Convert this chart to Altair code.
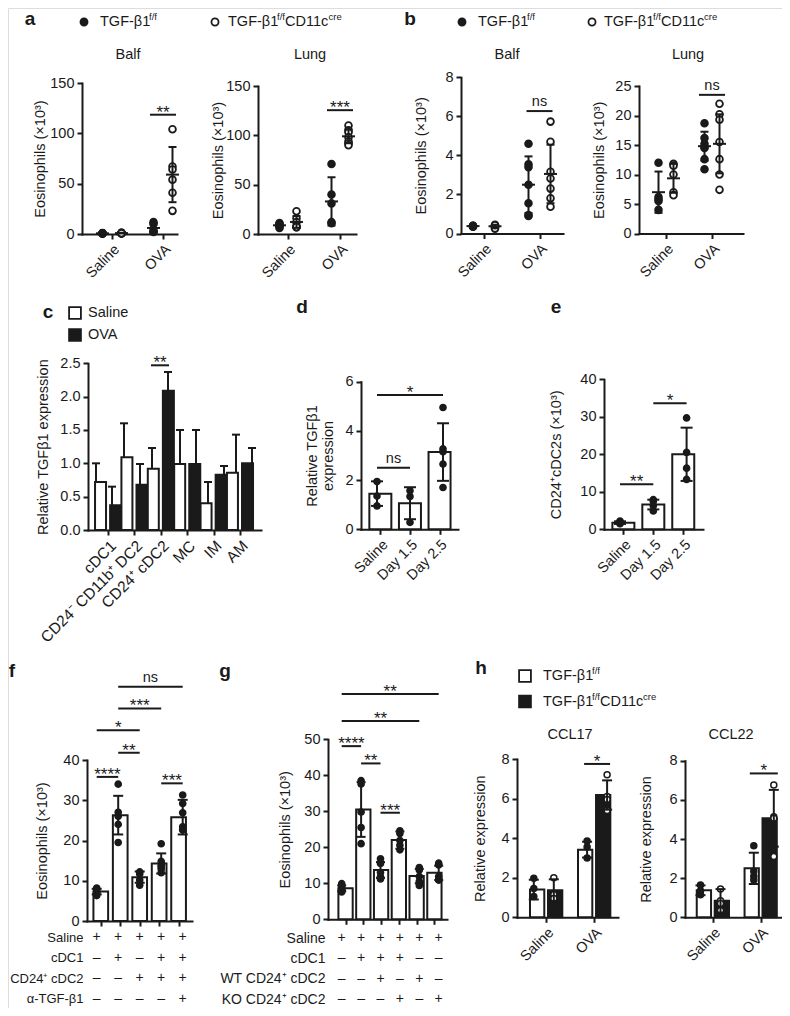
import altair as alt
import pandas as pd

W, H = 774, 1000
OX, OY = 8, 8
FONT = "Liberation Sans"
INK = "#1a1a1a"

# ---------------- data ----------------
AB_GROUPS = ["Saline", "OVA"]

# panel a  (filled = TGF-b1 f/f, open = TGF-b1 f/f CD11c cre)
a_balf_wt_pts = [[0.4, 0.6, 0.8, 1.0, 0.7], [12, 10, 3, 2, 3]]
a_balf_ko_pts = [[0.5, 0.7, 0.9, 1.1, 1.3, 0.8], [104, 67, 64, 54, 41, 23]]
a_balf_wt_mean, a_balf_wt_sd = [0.7, 6.0], [0.2, 4.6]
a_balf_ko_mean, a_balf_ko_sd = [0.9, 59.0], [0.3, 27.4]
a_balf_sig = (118.5, "**")

a_lung_wt_pts = [[11, 10, 9, 6, 8], [71, 40, 31, 12, 11]]
a_lung_ko_pts = [[23, 16, 12, 8, 7, 7], [110, 105, 103, 98, 94, 92, 90]]
a_lung_wt_mean, a_lung_wt_sd = [8.8, 33.0], [2.0, 24.5]
a_lung_ko_mean, a_lung_ko_sd = [12.2, 99.0], [6.0, 7.0]
a_lung_sig = (125.5, "***")

# panel b
b_balf_wt_pts = [[0.35, 0.38, 0.40, 0.36, 0.39], [4.6, 3.55, 3.4, 2.5, 1.55, 0.9, 0.95]]
b_balf_ko_pts = [[0.30, 0.40, 0.45, 0.35, 0.25, 0.42], [5.73, 4.7, 3.16, 2.82, 2.3, 1.8, 1.37]]
b_balf_wt_mean, b_balf_wt_sd = [0.38, 2.5], [0.02, 1.45]
b_balf_ko_mean, b_balf_ko_sd = [0.37, 3.05], [0.08, 1.5]
b_balf_sig = (6.27, "ns")

b_lung_wt_pts = [[12.0, 6.2, 5.8, 5.5, 4.0], [18.7, 16.2, 15.2, 14.7, 14.5, 12.6, 10.9]]
b_lung_ko_pts = [[11.8, 11.5, 10.0, 7.0, 6.5], [22.0, 20.2, 19.3, 15.5, 12.6, 10.0, 7.4]]
b_lung_wt_mean, b_lung_wt_sd = [7.0, 14.8], [3.5, 2.45]
b_lung_ko_mean, b_lung_ko_sd = [9.35, 15.2], [2.45, 5.0]
b_lung_sig = (23.5, "ns")

# panel c
C_CELLS = ["cDC1", "CD24⁻ CD11b⁺ DC2", "CD24⁺ cDC2", "MC", "IM", "AM"]
c_saline_mean = [0.72, 1.09, 0.92, 0.99, 0.40, 0.86]
c_saline_sd = [0.28, 0.51, 0.31, 0.51, 0.32, 0.57]
c_ova_mean = [0.37, 0.68, 2.09, 0.99, 0.83, 1.00]
c_ova_sd = [0.28, 0.31, 0.28, 0.51, 0.13, 0.23]
c_sig = [(2, 2.47, "**")]

# panels d, e
DE_GROUPS = ["Saline", "Day 1.5", "Day 2.5"]
d_mean, d_sd = [1.45, 1.06, 3.14], [0.5, 0.65, 1.17]
d_pts = [[1.94, 1.35, 0.95], [1.57, 1.33, 0.28], [4.95, 3.27, 3.15, 2.65, 1.70]]
d_sig = [(0, 1, 2.5, "ns"), (0, 2, 5.46, "*")]

e_mean, e_sd = [1.78, 6.6, 20.0], [0.35, 1.3, 7.1]
e_pts = [[2.2, 1.9, 1.8, 1.6, 1.5, 1.7], [7.9, 7.5, 6.3, 4.9], [29.7, 20.5, 16.3, 13.3]]
e_sig = [(0, 1, 12.0, "**"), (1, 2, 33.6, "*")]

# panel f
F_ROWS = ["Saline", "cDC1", "CD24⁺ cDC2", "α-TGF-β1"]
f_table = [["+", "+", "+", "+", "+"],
           ["–", "+", "–", "+", "+"],
           ["–", "–", "+", "+", "+"],
           ["–", "–", "–", "–", "+"]]
f_mean = [7.3, 26.3, 10.9, 14.3, 25.8]
f_sd = [0.7, 4.8, 1.4, 2.5, 4.3]
f_pts = [[8.2, 7.8, 7.4, 6.9, 6.3, 7.0], [34.0, 27.0, 26.0, 24.0, 19.5],
         [12.2, 11.7, 10.2, 8.9], [19.2, 14.8, 13.9, 13.5, 12.9, 12.0],
         [31.3, 29.2, 26.9, 23.4, 22.8, 22.6]]
f_sig = [(0, 1, 35.8, "****"), (1, 2, 41.8, "**"), (0, 2, 47.4, "*"),
         (1, 3, 52.8, "***"), (1, 4, 58.2, "ns"), (3, 4, 34.2, "***")]

# panel g
G_ROWS = ["Saline", "cDC1", "WT CD24⁺ cDC2", "KO CD24⁺ cDC2"]
g_table = [["+", "+", "+", "+", "+", "+"],
           ["–", "+", "+", "+", "–", "–"],
           ["–", "–", "+", "–", "+", "–"],
           ["–", "–", "–", "+", "–", "+"]]
g_mean = [8.6, 30.5, 13.7, 22.0, 12.0, 12.9]
g_sd = [0.8, 7.6, 2.2, 2.4, 2.0, 2.0]
g_pts = [[9.9, 9.3, 8.6, 8.0, 7.6, 7.9, 8.4], [38.5, 37.6, 29.8, 25.5, 21.0],
         [16.8, 15.5, 13.0, 11.8, 11.2], [24.6, 23.8, 21.9, 20.6, 19.3],
         [14.4, 13.7, 11.9, 10.5, 9.4], [15.6, 15.1, 11.9, 10.9, 11.0]]
g_sig = [(0, 5, 62.6, "**"), (0, 4, 55.1, "**"), (0, 1, 48.1, "****"),
         (1, 2, 43.3, "**"), (2, 3, 29.6, "***")]

# panel h (white bars = TGF-b1 f/f, black bars = TGF-b1 f/f CD11c cre)
h17_wt_mean, h17_wt_sd = [1.4, 3.42], [0.5, 0.4]
h17_ko_mean, h17_ko_sd = [1.37, 6.18], [0.55, 0.74]
h17_wt_pts = [[1.97, 1.45, 1.05], [3.85, 3.55, 3.0]]
h17_ko_pts = [[2.0, 1.15, 0.95], [7.2, 6.1, 5.95, 5.4]]
h17_sig = (7.75, "*")

h22_wt_mean, h22_wt_sd = [1.38, 2.5], [0.25, 0.8]
h22_ko_mean, h22_ko_sd = [0.84, 5.06], [0.6, 1.45]
h22_wt_pts = [[1.65, 1.35, 1.15], [3.65, 2.35, 2.1, 1.9]]
h22_ko_pts = [[1.45, 0.85, 0.7, 0.35], [6.76, 5.14, 5.06, 3.1]]
h22_sig = (7.35, "*")


# ---------------- helpers ----------------
def X(v):
    return v - OX


def Y(v):
    return v - OY


def js_arr(labels):
    return "[" + ",".join("'" + s + "'" for s in labels) + "]"


LBL = 14.5
AXS = dict(domainColor=INK, domainWidth=2, domainCap="square", tickColor=INK, tickWidth=2,
           tickSize=5, labelFont=FONT, labelColor=INK, titleFont=FONT,
           titleFontSize=14.5, titleFontWeight="normal", titleColor=INK, grid=False,
           labelFlush=False, labelOverlap=False)


class Frame:
    def __init__(s, ax0, ax1, c0, step, ybot, ytop, vmax):
        s.ax0, s.ax1, s.c0, s.step = ax0, ax1, c0, step
        s.ybot, s.ytop, s.vmax = ybot, ytop, vmax

    def xs(s):
        lo = -(s.c0 - s.ax0) / s.step
        hi = lo + (s.ax1 - s.ax0) / s.step
        return alt.Scale(domain=[lo, hi], range=[X(s.ax0), X(s.ax1)], nice=False, zero=False)

    def ys(s):
        return alt.Scale(domain=[0, s.vmax], range=[Y(s.ybot), Y(s.ytop)], nice=False, zero=False)

    def xaxis(s, labels, show=True, size=LBL):
        d = dict(orient="bottom", offset=Y(s.ybot) - H, values=list(range(len(labels))),
                 title=None, labelPadding=3, labelFontSize=size, **AXS)
        if show:
            d.update(labelExpr=js_arr(labels) + "[datum.value]", labelAngle=315)
        else:
            d.update(labels=False)
        return alt.Axis(**d)

    def yaxis(s, values, title, D, fmt=None):
        d = dict(orient="left", offset=-X(s.ax0), values=values, title=title, titleX=-D,
                 titleY=(Y(s.ybot) + Y(s.ytop)) / 2, titleAngle=270, titleAlign="center",
                 titleBaseline="bottom", labelPadding=3, labelFontSize=LBL, **AXS)
        if fmt:
            d["format"] = fmt
        return alt.Axis(**d)

    def x(s, field="x", axis=None):
        return alt.X(f"{field}:Q", scale=s.xs(), axis=axis)

    def y(s, field="y", axis=None):
        return alt.Y(f"{field}:Q", scale=s.ys(), axis=axis)


def points(fr, df, size, xaxis=None, yaxis=None, sw=1.5):
    return alt.Chart(df).mark_point(shape="circle", size=size, stroke=INK, strokeWidth=sw,
                                    opacity=1, fillOpacity=1).encode(
        x=fr.x(axis=xaxis), y=fr.y(axis=yaxis), fill=alt.Fill("f:N", scale=None))


def errbars(fr, S, cap, both=True):
    S = S.copy()
    S["lo"] = S["m"] - S["sd"] if both else S["m"]
    S["hi"] = S["m"] + S["sd"]
    caps = [S[["x", "hi"]].rename(columns={"hi": "y"})]
    if both:
        caps.append(S[["x", "lo"]].rename(columns={"lo": "y"}))
    C = pd.concat(caps, ignore_index=True)
    return [
        alt.Chart(S).mark_rule(color=INK, strokeWidth=2, opacity=1).encode(
            x=fr.x(), y=fr.y("lo"), y2=alt.Y2("hi:Q")),
        alt.Chart(C).mark_tick(orient="horizontal", size=cap, thickness=2, color=INK,
                               opacity=1).encode(x=fr.x(), y=fr.y()),
    ]


def sig_text(fr, df, xfield):
    out = []
    stars = df[df["t"] != "ns"]
    ns = df[df["t"] == "ns"]
    if len(stars):
        out.append(alt.Chart(stars).mark_text(font=FONT, fontSize=17, color=INK,
                                              baseline="alphabetic", dy=3).encode(
            x=fr.x(xfield), y=fr.y("y"), text="t:N"))
    if len(ns):
        out.append(alt.Chart(ns).mark_text(font=FONT, fontSize=14.5, color=INK,
                                           baseline="alphabetic", dy=-5).encode(
            x=fr.x(xfield), y=fr.y("y"), text="t:N"))
    return out


def sig_ticks(fr, sigs, width):
    df = pd.DataFrame([dict(x=xx, y=v, t=t) for xx, v, t in sigs])
    return [alt.Chart(df).mark_tick(orient="horizontal", size=width, thickness=2, color=INK,
                                    opacity=1).encode(x=fr.x(), y=fr.y())] + sig_text(fr, df, "x")


def sig_spans(fr, sigs):
    df = pd.DataFrame([dict(a=i, b=j, y=v, mid=(i + j) / 2, t=t) for i, j, v, t in sigs])
    return [alt.Chart(df).mark_rule(color=INK, strokeWidth=2, opacity=1).encode(
        x=fr.x("a"), x2=alt.X2("b:Q"), y=fr.y("y"))] + sig_text(fr, df, "mid")


def scatter_panel(fr, wt_pts, ko_pts, wt_m, wt_s, ko_m, ko_s, sig, yvals, ytitle, D, dodge):
    dd = dodge / fr.step
    prow, srow = [], []
    for gi in range(len(AB_GROUPS)):
        for v in wt_pts[gi]:
            prow.append(dict(x=gi - dd, y=v, f=INK))
        for v in ko_pts[gi]:
            prow.append(dict(x=gi + dd, y=v, f="white"))
        srow.append(dict(x=gi - dd, m=wt_m[gi], sd=wt_s[gi]))
        srow.append(dict(x=gi + dd, m=ko_m[gi], sd=ko_s[gi]))
    P, S = pd.DataFrame(prow), pd.DataFrame(srow)
    out = [points(fr, P, 46, fr.xaxis(AB_GROUPS), fr.yaxis(yvals, ytitle, D), sw=1.8)]
    out += errbars(fr, S, 8, True)
    out.append(alt.Chart(S).mark_tick(orient="horizontal", size=13, thickness=2, color=INK,
                                      opacity=1).encode(x=fr.x(), y=fr.y("m")))
    out += sig_ticks(fr, [(1, sig[0], sig[1])], 26)
    return out


def grouped_bar_panel(fr, groups, m1, s1, m2, s2, dodge, bw, cap, both, yvals, ytitle, D,
                      pts1=None, pts2=None, fmt=None, xsize=LBL):
    dd = dodge / fr.step
    brow, srow, prow = [], [], []
    for gi in range(len(groups)):
        brow.append(dict(x=gi - dd, m=m1[gi], f="white"))
        brow.append(dict(x=gi + dd, m=m2[gi], f=INK))
        srow.append(dict(x=gi - dd, m=m1[gi], sd=s1[gi]))
        srow.append(dict(x=gi + dd, m=m2[gi], sd=s2[gi]))
        if pts1 is not None:
            for v in pts1[gi]:
                prow.append(dict(x=gi - dd, y=v, f=INK))
            for v in pts2[gi]:
                prow.append(dict(x=gi + dd, y=v, f="white"))
    B, S = pd.DataFrame(brow), pd.DataFrame(srow)
    out = [alt.Chart(B).mark_bar(width=bw, stroke=INK, strokeWidth=2, opacity=1).encode(
        x=fr.x(axis=fr.xaxis(groups, True, xsize)),
        y=fr.y("m", axis=fr.yaxis(yvals, ytitle, D, fmt)),
        fill=alt.Fill("f:N", scale=None))]
    if prow:
        out.append(points(fr, pd.DataFrame(prow), 36))
    out += errbars(fr, S, cap, both)
    return out


def bar_panel(fr, groups, means, sds, pts, bw, cap, sigs, yvals, ytitle, D, show_labels=True):
    B = pd.DataFrame([dict(x=i, m=means[i], f="white") for i in range(len(groups))])
    S = pd.DataFrame([dict(x=i, m=means[i], sd=sds[i]) for i in range(len(groups))])
    P = pd.DataFrame([dict(x=i, y=v, f=INK) for i in range(len(groups)) for v in pts[i]])
    out = [alt.Chart(B).mark_bar(width=bw, stroke=INK, strokeWidth=2, opacity=1).encode(
        x=fr.x(axis=fr.xaxis(groups, show_labels)),
        y=fr.y("m", axis=fr.yaxis(yvals, ytitle, D)),
        fill=alt.Fill("f:N", scale=None))]
    out.append(points(fr, P, 38))
    out += errbars(fr, S, cap, True)
    out += sig_spans(fr, sigs)
    return out


def table_layer(fr, rows, table, ytop, ybot, label_right, size):
    df = pd.DataFrame([dict(x=c, r=r, t=table[r][c]) for r in range(len(rows))
                       for c in range(len(table[r]))])
    ysc = alt.Scale(domain=[0, len(rows) - 1], range=[Y(ytop), Y(ybot)], nice=False, zero=False)
    yax = alt.Axis(orient="left", offset=-X(label_right), values=list(range(len(rows))),
                   labelExpr=js_arr(rows) + "[datum.value]", domain=False, ticks=False,
                   tickSize=0, labelPadding=0, title=None, labelFont=FONT, labelFontSize=size,
                   labelColor=INK, grid=False, labelFlush=False, labelOverlap=False,
                   labelBaseline="middle")
    return alt.Chart(df).mark_text(font=FONT, fontSize=14, color=INK, baseline="middle").encode(
        x=fr.x(), y=alt.Y("r:Q", scale=ysc, axis=yax), text="t:N")


# ---------------- frames (axis extents in page pixels) ----------------
fr_a1 = Frame(82, 177, 112, 51, 234, 83, 150)
fr_a2 = Frame(258, 356, 288, 52, 234, 86, 150)
fr_b1 = Frame(461, 563, 484, 55.5, 233.5, 77.3, 8)
fr_b2 = Frame(639, 743, 666, 46, 233.5, 86, 25)
fr_c = Frame(88, 261, 104, 28, 530, 363.3, 2.5)
fr_d = Frame(361, 458, 377, 33, 529.3, 381.7, 6)
fr_e = Frame(604, 703, 620, 33.3, 529.3, 379.3, 40)
fr_f = Frame(87, 192, 96.7, 21.5, 921, 760, 40)
fr_g = Frame(328, 447, 341.7, 19.4, 919.3, 739.3, 50)
fr_h1 = Frame(517, 618, 543.8, 53.3, 917.3, 759, 8)
fr_h2 = Frame(685, 782, 710.5, 53.3, 917.3, 760.7, 8)

EOS = "Eosinophils (×10³)"
layers = []
layers += scatter_panel(fr_a1, a_balf_wt_pts, a_balf_ko_pts, a_balf_wt_mean, a_balf_wt_sd,
                        a_balf_ko_mean, a_balf_ko_sd, a_balf_sig, [0, 50, 100, 150], EOS, 35, 9.5)
layers += scatter_panel(fr_a2, a_lung_wt_pts, a_lung_ko_pts, a_lung_wt_mean, a_lung_wt_sd,
                        a_lung_ko_mean, a_lung_ko_sd, a_lung_sig, [0, 50, 100, 150], EOS, 33, 8.5)
layers += scatter_panel(fr_b1, b_balf_wt_pts, b_balf_ko_pts, b_balf_wt_mean, b_balf_wt_sd,
                        b_balf_ko_mean, b_balf_ko_sd, b_balf_sig, [0, 2, 4, 6, 8], EOS, 33, 11)
layers += scatter_panel(fr_b2, b_lung_wt_pts, b_lung_ko_pts, b_lung_wt_mean, b_lung_wt_sd,
                        b_lung_ko_mean, b_lung_ko_sd, b_lung_sig, [0, 5, 10, 15, 20, 25], EOS, 33, 7.5)

layers += grouped_bar_panel(fr_c, C_CELLS, c_saline_mean, c_saline_sd, c_ova_mean, c_ova_sd,
                            8, 11, 8, False, [0, 0.5, 1.0, 1.5, 2.0, 2.5],
                            "Relative TGFβ1 expression", 38, fmt=".1f", xsize=15.5)
layers += sig_ticks(fr_c, c_sig, 18)

layers += bar_panel(fr_d, DE_GROUPS, d_mean, d_sd, d_pts, 22, 12, d_sig, [0, 2, 4, 6],
                    ["Relative TGFβ1", "expression"], 42)
layers += bar_panel(fr_e, DE_GROUPS, e_mean, e_sd, e_pts, 22, 12, e_sig, [0, 10, 20, 30, 40],
                    "CD24⁺cDC2s (×10³)", 41)

layers += bar_panel(fr_f, F_ROWS[:1] * 5, f_mean, f_sd, f_pts, 14.7, 10, f_sig,
                    [0, 10, 20, 30, 40], EOS, 38, show_labels=False)
layers.append(table_layer(fr_f, F_ROWS, f_table, 937, 998.5, 83, 13))
layers += bar_panel(fr_g, G_ROWS[:1] * 6, g_mean, g_sd, g_pts, 14.3, 9, g_sig,
                    [0, 10, 20, 30, 40, 50], EOS, 36, show_labels=False)
layers.append(table_layer(fr_g, G_ROWS, g_table, 938, 999, 325, 14))

layers += grouped_bar_panel(fr_h1, AB_GROUPS, h17_wt_mean, h17_wt_sd, h17_ko_mean, h17_ko_sd,
                            10, 14.3, 10, True, [0, 2, 4, 6, 8], "Relative expression", 30,
                            h17_wt_pts, h17_ko_pts)
layers += sig_ticks(fr_h1, [(1, h17_sig[0], h17_sig[1])], 26)
layers += grouped_bar_panel(fr_h2, AB_GROUPS, h22_wt_mean, h22_wt_sd, h22_ko_mean, h22_ko_sd,
                            10, 14.3, 10, True, [0, 2, 4, 6, 8], "Relative expression", 32,
                            h22_wt_pts, h22_ko_pts)
layers += sig_ticks(fr_h2, [(1, h22_sig[0], h22_sig[1])], 28)

# ---------------- annotations (letters, legends, panel titles) ----------------
AXA = alt.Scale(domain=[0, W], range=[0, W], nice=False, zero=False)
AYA = alt.Scale(domain=[0, H], range=[0, H], nice=False, zero=False)


def ann_text(rows, size, weight="normal", align="left"):
    df = pd.DataFrame([dict(t=t, x=X(x), y=Y(y)) for t, x, y in rows])
    return alt.Chart(df).mark_text(font=FONT, fontSize=size, fontWeight=weight, align=align,
                                   baseline="middle", color=INK).encode(
        x=alt.X("x:Q", scale=AXA, axis=None), y=alt.Y("y:Q", scale=AYA, axis=None), text="t:N")


def ann_symbols(rows, shape, size):
    df = pd.DataFrame([dict(x=X(x), y=Y(y), f=f) for x, y, f in rows])
    return alt.Chart(df).mark_point(shape=shape, size=size, stroke=INK, strokeWidth=1.8,
                                    opacity=1, fillOpacity=1).encode(
        x=alt.X("x:Q", scale=AXA, axis=None), y=alt.Y("y:Q", scale=AYA, axis=None),
        fill=alt.Fill("f:N", scale=None))


letters = [("a", 30, 19), ("b", 410, 19), ("c", 48, 312), ("d", 302, 307), ("e", 556, 307),
           ("f", 12, 671), ("g", 225, 671), ("h", 481, 668)]
legend_txt = [("TGF-β1", 100, 22), ("TGF-β1", 228, 22), ("CD11c", 285, 22),
              ("TGF-β1", 478, 22), ("TGF-β1", 604, 22), ("CD11c", 661, 22),
              ("Saline", 88, 313), ("OVA", 88, 335),
              ("TGF-β1", 543, 676), ("TGF-β1", 543, 701.5), ("CD11c", 600, 701.5)]
legend_sup = [("f/f", 149, 17), ("f/f", 277, 17), ("cre", 328.5, 17),
              ("f/f", 527, 17), ("f/f", 653, 17), ("cre", 704, 17),
              ("f/f", 592, 671), ("f/f", 592, 696.5), ("cre", 643, 696.5)]
titles = [("Balf", 128, 55), ("Lung", 310, 55), ("Balf", 507, 55), ("Lung", 688, 55),
          ("CCL17", 570, 735), ("CCL22", 731, 735)]
legend_circles = [(84, 22, INK), (215, 22, "white"), (462, 22, INK), (592, 22, "white")]
legend_squares = [(75, 313, "white"), (75, 335, INK), (525, 676, "white"), (525, 701.5, INK)]

layers += [
    ann_text(letters, 19, "bold", "center"),
    ann_text(legend_txt, 14.5),
    ann_text(legend_sup, 9.5),
    ann_text(titles, 14.5, "normal", "center"),
    ann_symbols(legend_circles, "circle", 50),
    ann_symbols(legend_squares, "square", 140),
]

chart = alt.layer(*layers).properties(
    width=W, height=H, padding=0, autosize=alt.AutoSizeParams(type="none")
).resolve_scale(x="independent", y="independent").resolve_axis(
    x="independent", y="independent"
).configure_view(stroke=None).configure(font=FONT, background="white")

chart.save("out.html", embed_options={"renderer": "svg", "actions": False})
